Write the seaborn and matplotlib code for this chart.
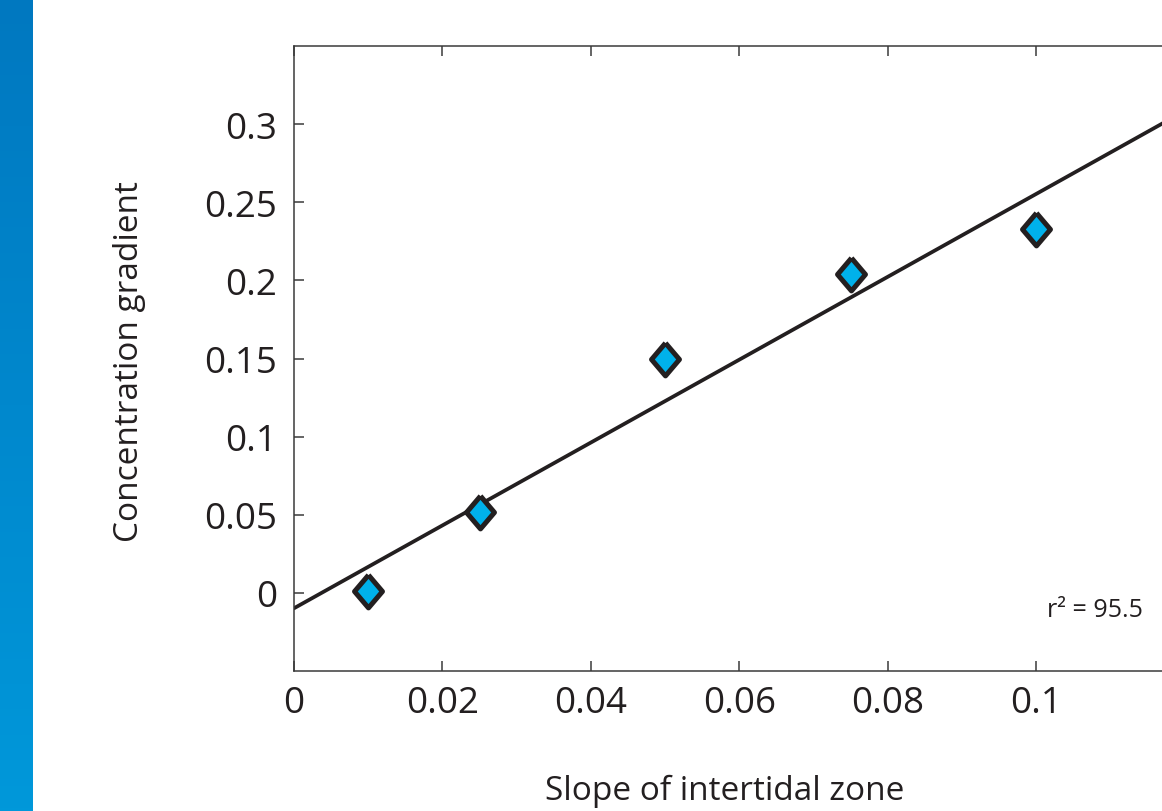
import numpy as np
import pandas as pd
import matplotlib
matplotlib.use("Agg")
import matplotlib.pyplot as plt
import seaborn as sns
from matplotlib.colors import LinearSegmentedColormap

# ---- data ----
slope = [0.01, 0.025, 0.05, 0.075, 0.1]
gradient = [0.001, 0.052, 0.150, 0.204, 0.233]
x_ticks = [0, 0.02, 0.04, 0.06, 0.08, 0.1]
x_tick_labels = ["0", "0.02", "0.04", "0.06", "0.08", "0.1"]
y_ticks = [0, 0.05, 0.1, 0.15, 0.2, 0.25, 0.3]
y_tick_labels = ["0", "0.05", "0.1", "0.15", "0.2", "0.25", "0.3"]
r2_text = "r² = 95.5"
x_label = "Slope of intertidal zone"
y_label = "Concentration gradient"

df = pd.DataFrame({"slope": slope, "gradient": gradient})

sns.set_theme(style="white")
plt.rcParams["font.family"] = ["Open Sans", "DejaVu Sans"]
TXT = "#231f20"

W, H = 1162, 812
fig = plt.figure(figsize=(W / 100, H / 100), dpi=100)

# blue side bar with gradient
bar = fig.add_axes([0, 0, 33 / W, 1])
cmap = LinearSegmentedColormap.from_list("b", ["#0078c0", "#0098da"])
bar.imshow(np.linspace(0, 1, 256).reshape(-1, 1), aspect="auto", cmap=cmap,
           extent=[0, 1, 1, 0])
bar.set_axis_off()

x0, x1 = 0.0, 0.12
y0, y1 = -0.05, 0.35
left = 294 / W
right = (294 + (x1 - x0) * 7420) / W
ax = fig.add_axes([left, 140 / H, right - left, (672 - 47) / H])
ax.set_xlim(x0, x1)
ax.set_ylim(y0, y1)

sns.regplot(data=df, x="slope", y="gradient", ax=ax, scatter=False, ci=None,
            truncate=False, line_kws=dict(color=TXT, lw=2.7, zorder=2))

diamond = [(0, 1), (0.85, 0), (0, -1), (-0.85, 0), (0, 1)]
sns.scatterplot(data=df, x="slope", y="gradient", ax=ax, marker=diamond,
                s=560, color="#00b1eb", edgecolor=TXT, linewidth=3.6, zorder=3)

ax.set_xticks(x_ticks)
ax.set_xticklabels(x_tick_labels)
ax.set_yticks(y_ticks)
ax.set_yticklabels(y_tick_labels)
ax.tick_params(axis="both", direction="in", length=7, width=1.1, color="#3a3a3a",
               labelsize=26.5, labelcolor=TXT)
ax.tick_params(axis="x", top=True, bottom=True, pad=10)
ax.tick_params(axis="y", left=True, right=False, pad=12)

for side in ["left", "bottom", "top", "right"]:
    ax.spines[side].set_visible(True)
    ax.spines[side].set_color("#3a3a3a")
    ax.spines[side].set_linewidth(1.1)

ax_w_px = (right - left) * W
ax.set_xlabel(x_label, fontsize=24, color=TXT)
ax.set_ylabel(y_label, fontsize=24, color=TXT)
ax.xaxis.set_label_coords((725 - 294) / ax_w_px, (672 - 775) / 625)
ax.yaxis.set_label_coords((146 - 294) / ax_w_px, (672 - 361.5) / 625)
ax.grid(False)

ax.text(0.1144, -0.0105, r2_text, fontsize=18, color=TXT, ha="right",
        va="center")

fig.savefig("out.png", dpi=100)
